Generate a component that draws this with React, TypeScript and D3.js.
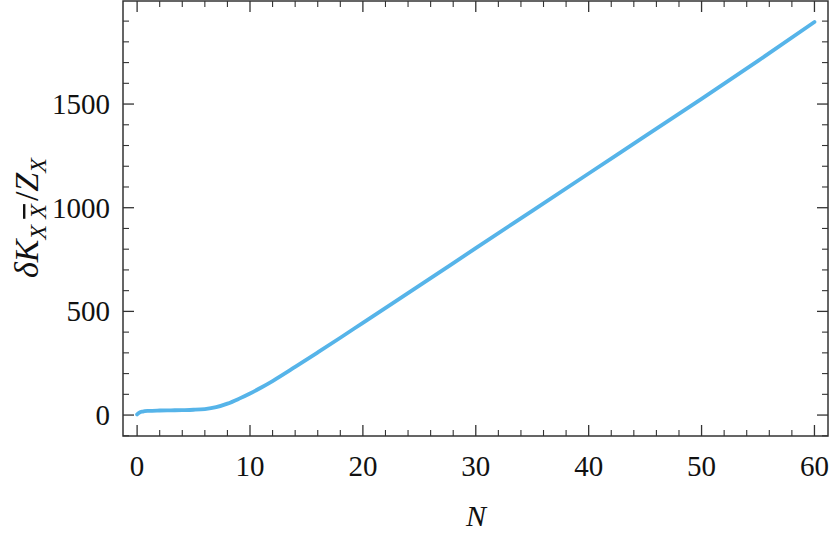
import React from 'react';
import { scaleLinear, line, curveMonotoneX, range } from 'd3';

// N values and the curve
const nValues = [0, 0.2, 0.5, 1, 2, 3, 4, 5, 6, 7, 8, 9, 10, 11, 12, 14, 16, 18, 20, 25, 30, 35, 40, 45, 50, 55, 60];
const kValues = [3, 12, 17, 20, 22, 23, 24, 25.5, 29, 38, 55, 78, 104, 133, 164, 232, 302, 373, 445, 624, 805, 985, 1165, 1345, 1525, 1708, 1896];

const xTicks = [0, 10, 20, 30, 40, 50, 60];
const yTicks = [0, 500, 1000, 1500];

const W = 830;
const H = 542;
const left = 123;
const right = 828;
const top = 1;
const bottom = 436;

const App = () => {
  // scales
  const x = scaleLinear().domain([-1.25, 61.2]).range([left, right]);
  const y = scaleLinear().domain([-101, 1997]).range([bottom, top]);

  const xMinor = range(0, 62, 2).filter((v) => v % 10 !== 0);
  const yMinor = range(-100, 2000, 100).filter((v) => v % 500 !== 0);

  const path = line<number>()
    .x((d, i) => x(nValues[i]))
    .y((d) => y(d))
    .curve(curveMonotoneX)(kValues);

  const font = '"Liberation Serif", "DejaVu Serif", serif';
  const frame = '#333';

  return (
    <svg width={W} height={H} style={{ position: 'absolute', left: 0, top: 0 }} fontFamily={font}>
      <rect x={0} y={0} width={W} height={H} fill="#fff" />
      <path d={path || ''} fill="none" stroke="#56b4e9" strokeWidth={3.8} strokeLinecap="round" />

      {/* x ticks, bottom and top */}
      {xTicks.map((t) => (
        <g key={'xt' + t}>
          <line x1={x(t)} x2={x(t)} y1={bottom} y2={bottom - 11} stroke={frame} strokeWidth={1.3} />
          <line x1={x(t)} x2={x(t)} y1={top} y2={top + 11} stroke={frame} strokeWidth={1.3} />
          <text x={x(t)} y={476} textAnchor="middle" fontSize={29} fill="#111">{t}</text>
        </g>
      ))}
      {xMinor.map((t) => (
        <g key={'xm' + t}>
          <line x1={x(t)} x2={x(t)} y1={bottom} y2={bottom - 6} stroke={frame} strokeWidth={1.1} />
          <line x1={x(t)} x2={x(t)} y1={top} y2={top + 6} stroke={frame} strokeWidth={1.1} />
        </g>
      ))}

      {/* y ticks, left and right */}
      {yTicks.map((t) => (
        <g key={'yt' + t}>
          <line x1={left} x2={left + 11} y1={y(t)} y2={y(t)} stroke={frame} strokeWidth={1.3} />
          <line x1={right} x2={right - 11} y1={y(t)} y2={y(t)} stroke={frame} strokeWidth={1.3} />
          <text x={110} y={y(t) + 10} textAnchor="end" fontSize={29} fill="#111">{t}</text>
        </g>
      ))}
      {yMinor.map((t) => (
        <g key={'ym' + t}>
          <line x1={left} x2={left + 6} y1={y(t)} y2={y(t)} stroke={frame} strokeWidth={1.1} />
          <line x1={right} x2={right - 6} y1={y(t)} y2={y(t)} stroke={frame} strokeWidth={1.1} />
        </g>
      ))}

      <rect x={left} y={top} width={right - left} height={bottom - top} fill="none" stroke={frame} strokeWidth={1.5} />

      {/* axis labels */}
      <text x={476} y={526} textAnchor="middle" fontSize={30} fontStyle="italic" fill="#111">N</text>
      <text transform="translate(38,218) rotate(-90)" textAnchor="middle" fontSize={34} fill="#111">
        <tspan fontStyle="italic">δK</tspan>
        <tspan fontSize={24} fontStyle="italic" dy={8}>X </tspan>
        <tspan fontSize={24} fontStyle="italic" style={{ textDecoration: 'overline' }}>X</tspan>
        <tspan dy={-8} dx={3}>/</tspan>
        <tspan fontStyle="italic">Z</tspan>
        <tspan fontSize={24} fontStyle="italic" dy={8}>X</tspan>
      </text>
    </svg>
  );
};

export default App;
